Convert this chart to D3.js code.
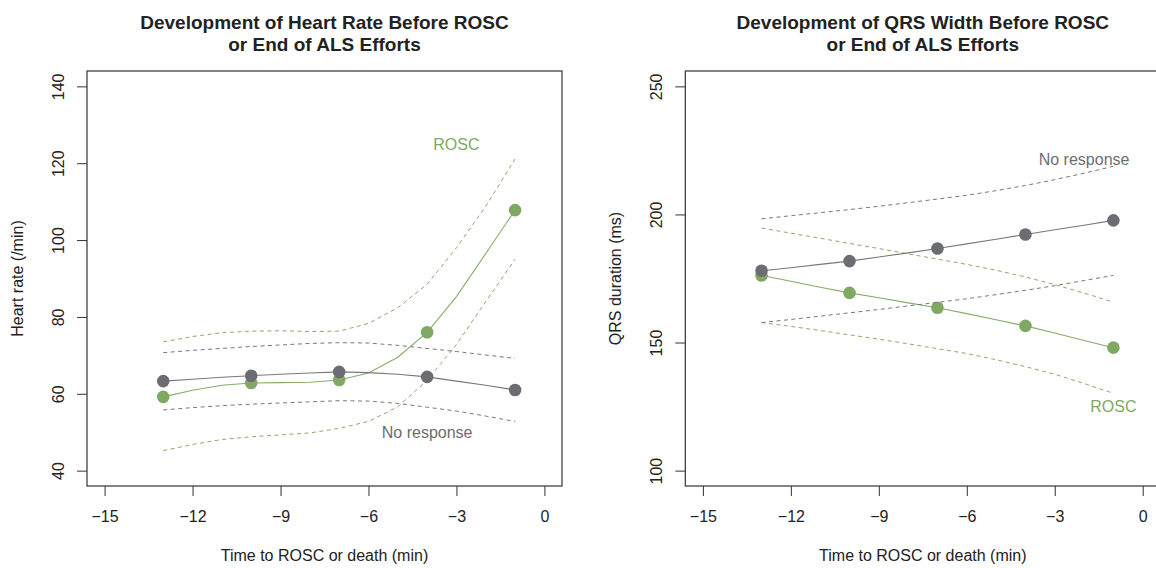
<!DOCTYPE html>
<html>
<head>
<meta charset="utf-8">
<script src="https://cdn.jsdelivr.net/npm/d3@7"></script>
<style>
  body { margin: 0; background: #fff; }
  svg { display: block; font-family: "Liberation Sans", Arial, Helvetica, sans-serif; }
</style>
</head>
<body>
<svg width="1156" height="568"></svg>
<script>
  // minutes before ROSC / death, fitted curve evaluated every minute
  const minutes = [-13, -12, -11, -10, -9, -8, -7, -6, -5, -4, -3, -2, -1];
  const obsMinutes = [-13, -10, -7, -4, -1];
  const xTicks = [-15, -12, -9, -6, -3, 0];

  // heart rate (/min)
  const hrRoscFit = [59.2, 60.9, 62.2, 62.8, 62.9, 63.0, 63.6, 65.4, 69.5, 76.0, 85.3, 96.5, 107.8];
  const hrRoscHi  = [73.5, 74.9, 75.9, 76.3, 76.4, 76.2, 76.3, 78.3, 82.4, 88.5, 98.0, 108.8, 121.1];
  const hrRoscLo  = [45.2, 46.8, 48.1, 48.8, 49.3, 49.8, 51.0, 52.8, 56.6, 63.5, 72.8, 84.0, 95.0];
  const hrNoneFit = [63.3, 63.8, 64.3, 64.7, 65.1, 65.4, 65.7, 65.5, 65.1, 64.4, 63.3, 62.2, 61.0];
  const hrNoneHi  = [70.7, 71.3, 71.8, 72.3, 72.7, 73.1, 73.3, 73.2, 72.6, 71.8, 71.0, 70.1, 69.2];
  const hrNoneLo  = [55.8, 56.4, 56.9, 57.3, 57.6, 57.9, 58.2, 58.1, 57.5, 56.5, 55.5, 54.2, 52.8];
  const hrRoscObs = [59.2, 62.8, 63.6, 76.0, 107.8];
  const hrNoneObs = [63.3, 64.7, 65.7, 64.4, 61.0];
  const hrTicks = [40, 60, 80, 100, 120, 140];

  // QRS width (ms)
  const qrsRoscFit = [176.2, 173.9, 171.6, 169.4, 167.5, 165.5, 163.6, 161.3, 158.9, 156.5, 153.7, 150.8, 148.0];
  const qrsRoscHi  = [194.7, 192.7, 190.7, 188.7, 186.7, 184.6, 182.6, 180.5, 178.2, 175.6, 172.6, 169.3, 165.8];
  const qrsRoscLo  = [157.8, 156.3, 154.7, 153.0, 151.3, 149.5, 147.6, 145.7, 143.3, 140.6, 137.6, 134.0, 130.2];
  const qrsNoneFit = [178.0, 179.2, 180.5, 181.8, 183.4, 185.0, 186.7, 188.5, 190.3, 192.2, 194.0, 195.8, 197.7];
  const qrsNoneHi  = [198.3, 199.5, 200.7, 201.9, 203.2, 204.6, 206.0, 207.5, 209.3, 211.3, 213.6, 216.1, 218.8];
  const qrsNoneLo  = [157.8, 159.0, 160.3, 161.6, 162.9, 164.3, 165.7, 167.1, 168.7, 170.4, 172.2, 174.2, 176.2];
  const qrsRoscObs = [176.2, 169.4, 163.6, 156.5, 148.0];
  const qrsNoneObs = [178.0, 181.8, 186.7, 192.2, 197.7];
  const qrsTicks = [100, 150, 200, 250];

  const green = "#80a862", greenLine = "#86ad69", grey = "#6c6d72", greyLine = "#77787c";

  const svg = d3.select("svg");

  const panels = [
    {
      left: 87, title: ["Development of Heart Rate Before ROSC", "or End of ALS Efforts"],
      ylab: "Heart rate (/min)", ydom: [36, 144], yticks: hrTicks,
      rosc: [hrRoscFit, hrRoscHi, hrRoscLo, hrRoscObs],
      none: [hrNoneFit, hrNoneHi, hrNoneLo, hrNoneObs],
      labels: [{text: "ROSC", t: -3, v: 125, col: green}, {text: "No response", t: -4, v: 50, col: grey}]
    },
    {
      left: 685.3, title: ["Development of QRS Width Before ROSC", "or End of ALS Efforts"],
      ylab: "QRS duration (ms)", ydom: [94, 256], yticks: qrsTicks,
      rosc: [qrsRoscFit, qrsRoscHi, qrsRoscLo, qrsRoscObs],
      none: [qrsNoneFit, qrsNoneHi, qrsNoneLo, qrsNoneObs],
      labels: [{text: "No response", t: -2, v: 221.3, col: grey}, {text: "ROSC", t: -1, v: 125, col: green}]
    }
  ];

  const plotTop = 71, plotBottom = 486, boxW = 475;
  const minus = d => d < 0 ? "\u2212" + Math.abs(d) : d;

  panels.forEach(p => {
    const x = d3.scaleLinear().domain([-15.6, 0.6]).range([p.left, p.left + boxW]);
    const y = d3.scaleLinear().domain(p.ydom).range([plotBottom, plotTop]);
    const g = svg.append("g");
    const cx = x(-7.5);

    // title
    g.append("text")
      .attr("x", cx).attr("text-anchor", "middle")
      .style("font-weight", "bold").style("font-size", "19px").attr("fill", "#222")
      .selectAll("tspan").data(p.title).enter().append("tspan")
        .attr("x", cx).attr("y", (d, i) => 29 + i * 22).text(d => d);

    // box
    g.append("rect")
      .attr("x", p.left).attr("y", plotTop).attr("width", boxW).attr("height", plotBottom - plotTop)
      .attr("fill", "none").attr("stroke", "#333").attr("stroke-width", 1.2);

    // x axis
    const xa = g.append("g").attr("transform", `translate(0,${plotBottom})`)
      .call(d3.axisBottom(x).tickValues(xTicks).tickSize(10).tickFormat(minus));
    xa.select(".domain").remove();
    xa.selectAll("line").attr("stroke", "#333");
    xa.selectAll("text").attr("y", 36).attr("dy", null)
      .style("font-size", "16px").attr("font-family", null).attr("fill", "#222");

    // y axis
    const ya = g.append("g").attr("transform", `translate(${p.left},0)`)
      .call(d3.axisLeft(y).tickValues(p.yticks).tickSize(10));
    ya.select(".domain").remove();
    ya.selectAll("line").attr("stroke", "#333");
    ya.selectAll("text")
      .attr("transform", "rotate(-90)").attr("x", 0).attr("y", -23.5).attr("dy", null)
      .attr("text-anchor", "middle")
      .style("font-size", "16px").attr("fill", "#222");
    ya.attr("font-family", null).attr("font-size", null);
    xa.attr("font-family", null).attr("font-size", null);

    // axis titles
    g.append("text").attr("x", cx).attr("y", 561).attr("text-anchor", "middle")
      .style("font-size", "16px").attr("fill", "#222").text("Time to ROSC or death (min)");
    g.append("text")
      .attr("transform", `translate(${p.left - 64},${(plotTop + plotBottom) / 2}) rotate(-90)`)
      .attr("text-anchor", "middle").style("font-size", "16px").attr("fill", "#222")
      .text(p.ylab);

    const line = d3.line().x((d, i) => x(minutes[i])).y(d => y(d));

    const drawGroup = (arr, colLine, colPt) => {
      const [fit, hi, lo, obs] = arr;
      [hi, lo].forEach(band => {
        g.append("path").datum(band).attr("d", line)
          .attr("fill", "none").attr("stroke", colLine).attr("stroke-width", 1)
          .attr("stroke-dasharray", "4,3.5");
      });
      g.append("path").datum(fit).attr("d", line)
        .attr("fill", "none").attr("stroke", colLine).attr("stroke-width", 1.1);
      g.selectAll(null).data(obs).enter().append("circle")
        .attr("cx", (d, i) => x(obsMinutes[i])).attr("cy", d => y(d))
        .attr("r", 6.3).attr("fill", colPt);
    };
    drawGroup(p.rosc, greenLine, green);
    drawGroup(p.none, greyLine, grey);

    g.selectAll(null).data(p.labels).enter().append("text")
      .attr("x", d => x(d.t)).attr("y", d => y(d.v)).attr("dy", "0.35em")
      .attr("text-anchor", "middle").style("font-size", "16px")
      .attr("fill", d => d.col).text(d => d.text);
  });
</script>
</body>
</html>
